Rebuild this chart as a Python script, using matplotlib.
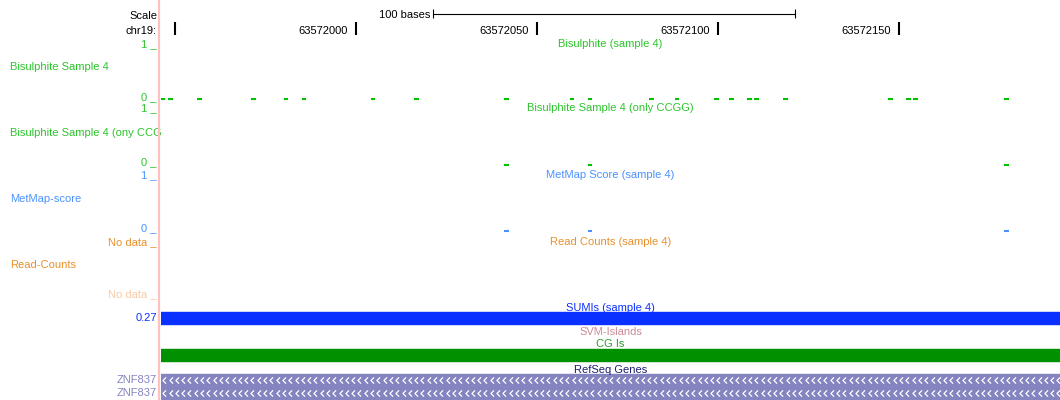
#!/usr/bin/env python3
"""UCSC-style browser view of chr19:63571946-63572194 (sample 4 methylation tracks)."""

import matplotlib

matplotlib.use("Agg")
import matplotlib.pyplot as plt
import numpy as np
from matplotlib.path import Path
from matplotlib.transforms import offset_copy

plt.rcParams["font.family"] = ["Liberation Sans", "DejaVu Sans"]
plt.rcParams["font.size"] = 8

# ---- data -----------------------------------------------------------------
CHROM = "chr19"
VIEW_START = 63571946.1
VIEW_END = 63572194.5

ruler_ticks = [63571950, 63572000, 63572050, 63572100, 63572150]
ruler_labels = ["", "63572000", "63572050", "63572100", "63572150"]
scale_start = 63572021.2
scale_len = 100

bisulphite_pos = [
    63571946, 63571948, 63571956, 63571971, 63571980, 63571985, 63572004,
    63572016, 63572041, 63572059, 63572064, 63572081, 63572088, 63572099,
    63572103, 63572108, 63572110, 63572118, 63572147, 63572152, 63572154,
    63572179,
]
bisulphite_val = [0] * len(bisulphite_pos)

ccgg_pos = [63572041, 63572064, 63572179]
ccgg_val = [0, 0, 0]

metmap_pos = [63572041, 63572064, 63572179]
metmap_val = [0, 0, 0]

sumi_value = 0.27
sumi_span = (63571900, 63572250)
cgi_span = (63571900, 63572250)
gene_names = ["ZNF837", "ZNF837"]
gene_spans = [(63571900, 63572250), (63571900, 63572250)]

# ---- style ----------------------------------------------------------------
W, H = 1060, 400
DATA_X0 = 161
GREEN = "#00C000"
GREEN_TXT = "#2CC42C"
METMAP = "#4A92FF"
ORANGE = "#E8902C"
ORANGE_LIGHT = "#F7CBA6"
SUMI = "#0A30FF"
CGI = "#009000"
GENE = "#8484C0"
PINK = "#FFC0C0"
MARK_W = 1.3

fig = plt.figure(figsize=(W / 100, H / 100), dpi=100)


def px_axes(x0, y0, x1, y1):
    a = fig.add_axes([x0 / W, 1 - y1 / H, (x1 - x0) / W, (y1 - y0) / H])
    a.set_axis_off()
    return a


# left label column, pixel coordinates
lab = px_axes(0, 0, DATA_X0, H)
lab.set_xlim(0, DATA_X0)
lab.set_ylim(H, 0)


def left(y, s, color, x=157, ha="right", clip=False):
    lab.text(x, y, s, color=color, ha=ha, va="baseline", clip_on=clip)


left(19, "Scale", "black")
left(34, CHROM + ":", "black")

left(47, "1 _", GREEN_TXT)
left(70, "Bisulphite Sample 4", GREEN_TXT, x=10, ha="left", clip=True)
left(100, "0 _", GREEN_TXT)

left(111, "1 _", GREEN_TXT)
left(136, "Bisulphite Sample 4 (ony CCGG)", GREEN_TXT, x=10, ha="left", clip=True)
left(165, "0 _", GREEN_TXT)

left(178, "1 _", METMAP)
left(202, "MetMap-score", METMAP, x=10, ha="left", clip=True)
left(231, "0 _", METMAP)

left(245, "No data _", ORANGE)
left(268, "Read-Counts", ORANGE, x=10, ha="left", clip=True)
left(297, "No data _", ORANGE_LIGHT)

left(321, f"{sumi_value:.2f}", SUMI)
for y, name in zip([383, 396], gene_names):
    left(y, name, GENE)

lab.axvline(159, color=PINK, lw=1.6, zorder=10)

# main view: genomic x, pixel y
ax = px_axes(DATA_X0, 0, W, H)
ax.set_xlim(VIEW_START, VIEW_END)
ax.set_ylim(H, 0)
mid = (VIEW_START + VIEW_END) / 2

# ruler
ax.hlines(13.5, scale_start, scale_start + scale_len, color="black", lw=0.8)
ax.vlines([scale_start, scale_start + scale_len], 9, 18, color="black", lw=0.8)
ax.text(scale_start, 18, f"{scale_len} bases", ha="right", va="baseline",
        transform=offset_copy(ax.transData, fig, x=-2, units="dots"))
ax.vlines(ruler_ticks, 22, 35, color="black", lw=1.5)
lbl_tr = offset_copy(ax.transData, fig, x=-8, units="dots")
for p, s in zip(ruler_ticks, ruler_labels):
    ax.text(p, 34, s, ha="right", va="baseline", transform=lbl_tr)

# track titles
titles = [
    (47, "Bisulphite (sample 4)", GREEN_TXT),
    (111, "Bisulphite Sample 4 (only CCGG)", GREEN_TXT),
    (178, "MetMap Score (sample 4)", METMAP),
    (245, "Read Counts (sample 4)", ORANGE),
    (311, "SUMIs (sample 4)", SUMI),
    (335, "SVM-Islands", "#C98C98"),
    (347, "CG Is", "#2EA02E"),
    (373, "RefSeq Genes", "#1E1E70"),
]
for y, s, c in titles:
    ax.text(mid, y, s, color=c, ha="center", va="baseline")

# wiggle tracks, value axes (1 at top, 0 at bottom)
for (y_top, y_zero), pos, val, col in [
    ((47, 98.5), bisulphite_pos, bisulphite_val, GREEN),
    ((111, 164.5), ccgg_pos, ccgg_val, GREEN),
    ((178, 230.5), metmap_pos, metmap_val, METMAP),
]:
    t = px_axes(DATA_X0, y_top, W, y_zero)
    t.set_xlim(VIEW_START, VIEW_END)
    t.set_ylim(0, 1)
    t.hlines(val, pos, np.array(pos) + MARK_W, color=col, lw=1.5, clip_on=False)

# SUMIs and CpG islands
ax.broken_barh([(sumi_span[0], sumi_span[1] - sumi_span[0])], (312, 12), color=SUMI)
ax.broken_barh([(cgi_span[0], cgi_span[1] - cgi_span[0])], (349, 12), color=CGI)

# genes (minus strand, chevrons)
chevron = Path([(0.5, 1), (-0.5, 0), (0.5, -1)],
               [Path.MOVETO, Path.LINETO, Path.LINETO])
for y0, (s, e) in zip([374, 387], gene_spans):
    ax.broken_barh([(s, e - s)], (y0, 11.5), color=GENE)
    xs = np.arange(VIEW_START + 0.9, VIEW_END, 1.74)
    ax.plot(xs, np.full(len(xs), y0 + 5.8), ls="none", marker=chevron,
            ms=4.5, mfc="none", mec="white", mew=0.9)

fig.savefig("out.png", dpi=100)
